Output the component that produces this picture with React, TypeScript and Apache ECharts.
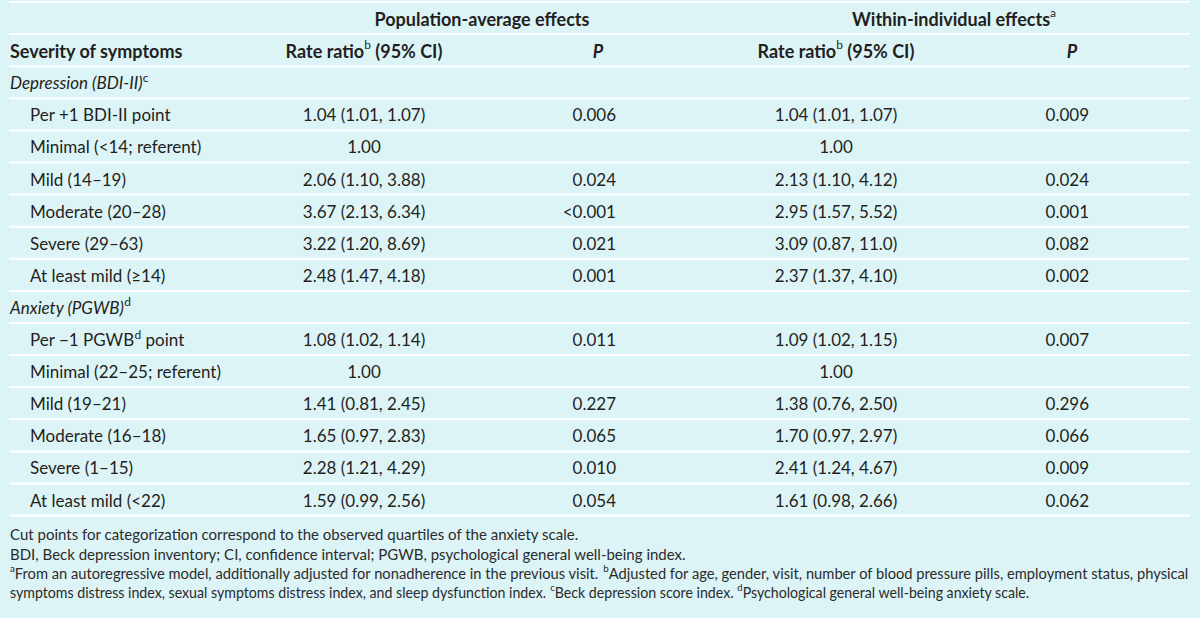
import React, { useEffect, useRef } from "react";
import * as echarts from "echarts";

// ---------- data ----------
const groupHeaders = ["Population-average effects", "Within-individual effects{sup|a}"];
const columnHeaders = ["Severity of symptoms", "Rate ratio{sup|b} (95% CI)", "P", "Rate ratio{sup|b} (95% CI)", "P"];

const depressionTitle = "Depression (BDI-II){sup|c}";
const depressionLabels = [
  "Per +1 BDI-II point",
  "Minimal (<14; referent)",
  "Mild (14–19)",
  "Moderate (20–28)",
  "Severe (29–63)",
  "At least mild (≥14)",
];
const depressionPopRR = ["1.04 (1.01, 1.07)", "1.00", "2.06 (1.10, 3.88)", "3.67 (2.13, 6.34)", "3.22 (1.20, 8.69)", "2.48 (1.47, 4.18)"];
const depressionPopP = ["0.006", "", "0.024", "<0.001", "0.021", "0.001"];
const depressionWithinRR = ["1.04 (1.01, 1.07)", "1.00", "2.13 (1.10, 4.12)", "2.95 (1.57, 5.52)", "3.09 (0.87, 11.0)", "2.37 (1.37, 4.10)"];
const depressionWithinP = ["0.009", "", "0.024", "0.001", "0.082", "0.002"];

const anxietyTitle = "Anxiety (PGWB){sup|d}";
const anxietyLabels = [
  "Per −1 PGWB{sup|d} point",
  "Minimal (22–25; referent)",
  "Mild (19–21)",
  "Moderate (16–18)",
  "Severe (1–15)",
  "At least mild (<22)",
];
const anxietyPopRR = ["1.08 (1.02, 1.14)", "1.00", "1.41 (0.81, 2.45)", "1.65 (0.97, 2.83)", "2.28 (1.21, 4.29)", "1.59 (0.99, 2.56)"];
const anxietyPopP = ["0.011", "", "0.227", "0.065", "0.010", "0.054"];
const anxietyWithinRR = ["1.09 (1.02, 1.15)", "1.00", "1.38 (0.76, 2.50)", "1.70 (0.97, 2.97)", "2.41 (1.24, 4.67)", "1.61 (0.98, 2.66)"];
const anxietyWithinP = ["0.007", "", "0.296", "0.066", "0.009", "0.062"];

const footnotes = [
  "Cut points for categorization correspond to the observed quartiles of the anxiety scale.",
  "BDI, Beck depression inventory; CI, confidence interval; PGWB, psychological general well-being index.",
  "{sup|a}From an autoregressive model, additionally adjusted for nonadherence in the previous visit. {sup|b}Adjusted for age, gender, visit, number of blood pressure pills, employment status, physical",
  "symptoms distress index, sexual symptoms distress index, and sleep dysfunction index. {sup|c}Beck depression score index. {sup|d}Psychological general well-being anxiety scale.",
];

// ---------- layout / style ----------
const BG = "#ddf4f7";
const INK = "#231f20";
const FONT = "Lato, 'Open Sans', sans-serif";
const LINE_X0 = 9;
const LINE_X1 = 1190;
const ROW0 = 2;
const ROW_H = 32.1;
const COL = { label: 10, indent: 30, popRR: 364, popP: 616, popPHead: 598, wRR: 836, wP: 1089, wPHead: 1072, popGroup: 482, wGroup: 954 };
const FOOT_Y = [534, 553.5, 573, 592.5];
const FOOT_SCALE = [1, 1, 0.98, 0.945];

const rowY = (k: number) => ROW0 + (k + 0.5) * ROW_H + 0.5;

function supRich(size: number) {
  return { sup: { fontSize: size, fontFamily: FONT, fontWeight: "normal", fontStyle: "normal", lineHeight: size + 2, verticalAlign: "top", fill: INK } };
}

function txt(x: number, y: number, text: string, o: any = {}) {
  const size = o.size ?? 17;
  return {
    type: "text",
    x,
    y,
    scaleX: o.scaleX ?? 1,
    silent: true,
    style: {
      text,
      fill: o.fill ?? INK,
      fontSize: size,
      fontFamily: FONT,
      fontWeight: o.bold ? "bold" : "normal",
      fontStyle: o.italic ? "italic" : "normal",
      align: o.align ?? "left",
      verticalAlign: "middle",
      lineHeight: size + 6,
      rich: supRich(Math.round(size * 0.68)),
    },
  };
}

function buildGraphic() {
  const els: any[] = [];
  els.push({ type: "rect", shape: { x: 0, y: 0, width: 1200, height: 618 }, style: { fill: BG }, silent: true });
  for (let k = 0; k <= 16; k++) {
    const y = ROW0 + k * ROW_H;
    els.push({ type: "line", shape: { x1: LINE_X0, y1: y, x2: LINE_X1, y2: y }, style: { stroke: "#ffffff", lineWidth: 2 }, silent: true });
  }
  const H = 18;
  els.push(txt(COL.popGroup, rowY(0), groupHeaders[0], { bold: true, align: "center", size: H }));
  els.push(txt(COL.wGroup, rowY(0), groupHeaders[1], { bold: true, align: "center", size: H }));
  els.push(txt(COL.label, rowY(1), columnHeaders[0], { bold: true, size: H }));
  els.push(txt(COL.popRR, rowY(1), columnHeaders[1], { bold: true, align: "center", size: H }));
  els.push(txt(COL.popPHead, rowY(1), columnHeaders[2], { bold: true, italic: true, align: "center", size: H }));
  els.push(txt(COL.wRR, rowY(1), columnHeaders[3], { bold: true, align: "center", size: H }));
  els.push(txt(COL.wPHead, rowY(1), columnHeaders[4], { bold: true, italic: true, align: "center", size: H }));

  const sections = [
    { title: depressionTitle, labels: depressionLabels, pRR: depressionPopRR, pP: depressionPopP, wRR: depressionWithinRR, wP: depressionWithinP },
    { title: anxietyTitle, labels: anxietyLabels, pRR: anxietyPopRR, pP: anxietyPopP, wRR: anxietyWithinRR, wP: anxietyWithinP },
  ];
  let k = 2;
  sections.forEach((s) => {
    els.push(txt(COL.label, rowY(k), s.title, { italic: true }));
    k++;
    s.labels.forEach((lab, i) => {
      const y = rowY(k);
      els.push(txt(COL.indent, y, lab));
      els.push(txt(COL.popRR, y, s.pRR[i], { align: "center" }));
      if (s.pP[i]) els.push(txt(COL.popP, y, s.pP[i], { align: "right" }));
      els.push(txt(COL.wRR, y, s.wRR[i], { align: "center" }));
      if (s.wP[i]) els.push(txt(COL.wP, y, s.wP[i], { align: "right" }));
      k++;
    });
  });

  footnotes.forEach((f, i) => els.push(txt(10, FOOT_Y[i], f, { size: 15, fill: "#2b2b2b", scaleX: FOOT_SCALE[i] })));
  return els;
}

export default function App() {
  const ref = useRef<HTMLDivElement>(null);
  useEffect(() => {
    document.body.style.margin = "0";
    const chart = echarts.init(ref.current!, null, { renderer: "svg" });
    chart.setOption({ animation: false, backgroundColor: BG, graphic: { elements: buildGraphic() } });
    return () => chart.dispose();
  }, []);
  return <div ref={ref} style={{ width: 1200, height: 618 }} />;
}
